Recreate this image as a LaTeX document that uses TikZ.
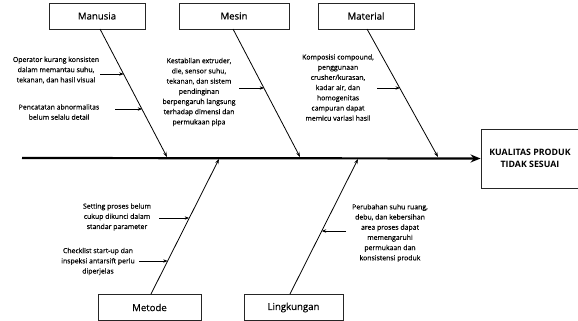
\documentclass[tikz,border=0pt]{standalone}
\usepackage{fontspec}
\setmainfont{Open Sans}
\newfontfamily\medfont{Open Sans}[FakeBold=0.35]
\usetikzlibrary{arrows.meta,calc}
\begin{document}
\begin{tikzpicture}[x=1pt,y=-1pt,
  catbox/.style={draw=black!85,line width=0.9pt,minimum width=#1,minimum height=26pt,inner sep=0pt,font=\medfont\fontsize{9.6}{11}\selectfont},
  cause/.style={align=center,inner sep=0pt,font=\medfont\fontsize{6.9}{10.2}\selectfont},
  bone/.style={line width=0.8pt,-{Stealth[length=5pt,width=3.5pt]}},
  sub/.style={line width=0.7pt,-{Stealth[length=4.5pt,width=3.4pt]}}]
\useasboundingbox (0,0) rectangle (578,321);
\fill[white] (0,0) rectangle (578,321);
% boxes
\node[catbox=96pt] (manusia) at (97,16) {Manusia};
\node[catbox=110pt] (mesin) at (234,16) {Mesin};
\node[catbox=96pt] (material) at (366,16) {Material};
\node[catbox=103pt] (metode) at (149.5,307.5) {Metode};
\node[catbox=99pt] (lingk) at (293.5,307.5) {Lingkungan};
\node[draw=black!85,line width=0.9pt,minimum width=98pt,minimum height=59pt,align=center,inner sep=0pt,
  font=\fontsize{8.8}{12.5}\selectfont\bfseries] (effect) at (530,158.5) {KUALITAS PRODUK\\TIDAK SESUAI};
% spine
\coordinate (tail) at (22,158);
\draw[line width=2.2pt,-{Stealth[length=10pt,width=8pt]}] (tail) -- (effect.west);
% bones
\coordinate (mt) at (167,157);
\coordinate (st) at (300,157);
\coordinate (at) at (438,157);
\coordinate (ot) at (219,159);
\coordinate (lt) at (358,159);
\coordinate (mb) at (100,29);
\coordinate (sb) at (233,29);
\coordinate (ab) at (367,29);
\coordinate (ob) at (151,294);
\coordinate (lb) at (290,294);
\draw[bone] (mb) -- (mt);
\draw[bone] (sb) -- (st);
\draw[bone] (ab) -- (at);
\draw[bone] (ob) -- (ot);
\draw[bone] (lb) -- (lt);
% cause texts
\node[cause] (c1) at (56,70) {Operator kurang konsisten\\dalam memantau suhu,\\tekanan, dan hasil visual};
\node[cause] (c2) at (59,112) {Pencatatan abnormalitas\\belum selalu detail};
\node[cause] (c3) at (199,92) {Kestabilan extruder,\\die, sensor suhu,\\tekanan, dan sistem\\pendinginan\\berpengaruh langsung\\terhadap dimensi dan\\permukaan pipa};
\node[cause] (c4) at (338,87.5) {Komposisi compound,\\penggunaan\\crusher/kurasan,\\kadar air, dan\\homogenitas\\campuran dapat\\memicu variasi hasil};
\node[cause] (c5) at (117,217) {Setting proses belum\\cukup dikunci dalam\\standar parameter};
\node[cause] (c6) at (98,261.5) {Checklist start-up dan\\inspeksi antarsift perlu\\diperjelas};
\node[cause] (c7) at (390,233) {Perubahan suhu ruang,\\debu, dan kebersihan\\area proses dapat\\memengaruhi\\permukaan dan\\konsistensi produk};
% sub arrows
\coordinate (a1s) at (100,74);  \coordinate (a1e) at ($(mb)!0.354!(mt)$);
\coordinate (a2s) at (115,109); \coordinate (a2e) at ($(mb)!0.630!(mt)$);
\coordinate (a3s) at (239,88);  \coordinate (a3e) at ($(sb)!0.465!(st)$);
\coordinate (a4s) at (377,88);  \coordinate (a4e) at ($(ab)!0.465!(at)$);
\coordinate (a5s) at (159,218); \coordinate (a5e) at ($(ob)!0.561!(ot)$);
\coordinate (a6s) at (139,261); \coordinate (a6e) at ($(ob)!0.245!(ot)$);
\coordinate (a7s) at (346,231); \coordinate (a7e) at ($(lb)!0.466!(lt)$);
\draw[sub] (a1s) -- (a1e |- a1s);
\draw[sub] (a2s) -- (a2e |- a2s);
\draw[sub] (a3s) -- (a3e |- a3s);
\draw[sub] (a4s) -- (a4e |- a4s);
\draw[sub] (a5s) -- (a5e |- a5s);
\draw[sub] (a6s) -- (a6e |- a6s);
\draw[sub] (a7s) -- (a7e |- a7s);
\end{tikzpicture}
\end{document}
